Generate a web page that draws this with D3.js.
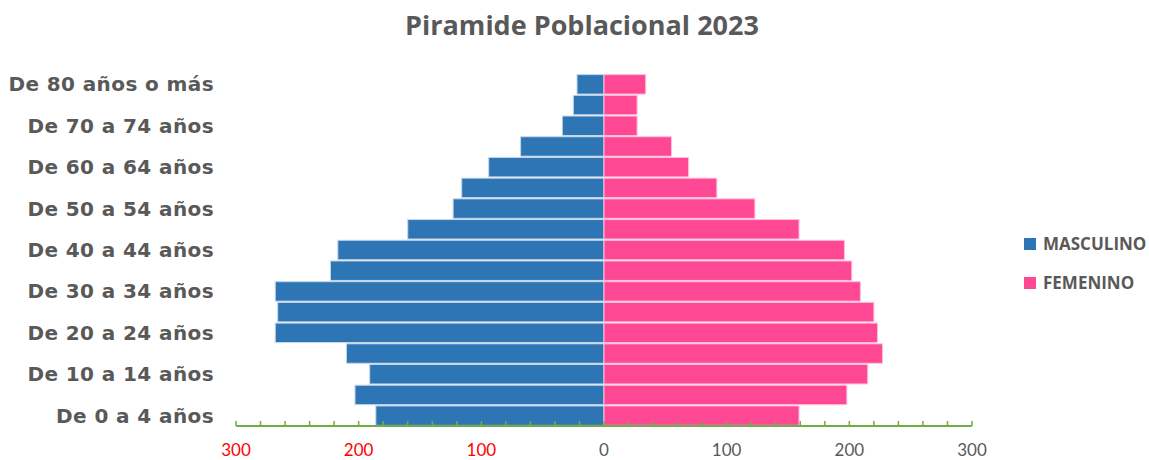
<!DOCTYPE html>
<html>
<head>
<meta charset="utf-8">
<script src="https://cdn.jsdelivr.net/npm/d3@7"></script>
<style>
  body { margin: 0; background: #fff; }
  svg { display: block; }
</style>
</head>
<body>
<div id="chart"></div>
<script>
// age groups, youngest first
const categories = [
    "De 0 a 4 años", "De 5 a 9 años", "De 10 a 14 años", "De 15 a 19 años",
    "De 20 a 24 años", "De 25 a 29 años", "De 30 a 34 años", "De 35 a 39 años",
    "De 40 a 44 años", "De 45 a 49 años", "De 50 a 54 años", "De 55 a 59 años",
    "De 60 a 64 años", "De 65 a 69 años", "De 70 a 74 años", "De 75 a 79 años",
    "De 80 años o más"
];
const masculino = [186, 203, 191, 210, 268, 266, 268, 223, 217, 160, 123, 116, 94, 68, 34, 25, 22];
const femenino = [159, 198, 215, 227, 223, 220, 209, 202, 196, 159, 123, 92, 69, 55, 27, 27, 34];
const tickValues = [-300, -200, -100, 0, 100, 200, 300];
const seriesNames = ["MASCULINO", "FEMENINO"];

const WIDTH = 1149, HEIGHT = 460;
const BLUE = "#2e75b6", PINK = "#ff4893", GREY = "#595959";

const svg = d3.select("#chart").append("svg")
    .attr("width", WIDTH)
    .attr("height", HEIGHT);

const x = d3.scaleLinear().domain([-300, 300]).range([236, 972]);
const y = d3.scaleBand().domain(categories).range([426, 74]).paddingInner(0.06).paddingOuter(0.03);

svg.append("text")
    .attr("x", 582).attr("y", 35)
    .attr("text-anchor", "middle")
    .style("font-family", "'Open Sans', sans-serif")
    .style("font-weight", "bold")
    .style("font-size", "27px")
    .attr("fill", GREY)
    .text("Piramide Poblacional 2023");

// bars
const bars = svg.append("g");
bars.selectAll(".m").data(masculino).join("rect")
    .attr("class", "m")
    .attr("x", d => x(-d))
    .attr("width", d => x(0) - x(-d))
    .attr("y", (d, i) => y(categories[i]))
    .attr("height", y.bandwidth())
    .attr("fill", BLUE)
    .attr("stroke", "#c5d6ea").attr("stroke-width", 1);
bars.selectAll(".f").data(femenino).join("rect")
    .attr("class", "f")
    .attr("x", x(0))
    .attr("width", d => x(d) - x(0))
    .attr("y", (d, i) => y(categories[i]))
    .attr("height", y.bandwidth())
    .attr("fill", PINK)
    .attr("stroke", "#ffc2da").attr("stroke-width", 1);

// category labels, every other one
svg.append("g").selectAll("text")
    .data(categories.filter((c, i) => i % 2 === 0))
    .join("text")
    .attr("x", 214)
    .attr("y", d => y(d) + y.bandwidth() / 2)
    .attr("dy", "0.35em")
    .attr("text-anchor", "end")
    .style("font-family", "'DejaVu Sans', Verdana, sans-serif")
    .style("font-weight", "bold")
    .style("font-size", "20px")
    .style("letter-spacing", "0.4px")
    .attr("fill", GREY)
    .text(d => d);

// x axis with minor ticks every 20
const axisG = svg.append("g").attr("transform", "translate(0,426)");
axisG.append("line")
    .attr("x1", x(-300)).attr("x2", x(300))
    .attr("stroke", "#70ad47").attr("stroke-width", 2);
axisG.selectAll(".tick").data(d3.range(-300, 301, 20)).join("line")
    .attr("x1", d => x(d)).attr("x2", d => x(d))
    .attr("y1", 0).attr("y2", -5)
    .attr("stroke", "#70ad47").attr("stroke-width", 1.5);
axisG.selectAll(".lbl").data(tickValues).join("text")
    .attr("x", d => x(d))
    .attr("y", 30)
    .attr("text-anchor", "middle")
    .style("font-family", "Lato, 'Open Sans', sans-serif")
    .style("font-size", "17px")
    .attr("fill", d => d < 0 ? "#ff0000" : GREY)
    .text(d => Math.abs(d));

// legend
const legend = svg.append("g").attr("transform", "translate(1024,0)");
seriesNames.forEach((name, i) => {
    const ly = 244 + i * 39;
    legend.append("rect")
        .attr("x", 0).attr("y", ly - 6)
        .attr("width", 12).attr("height", 12)
        .attr("fill", i === 0 ? BLUE : PINK);
    legend.append("text")
        .attr("x", 19).attr("y", ly)
        .attr("dy", "0.35em")
        .style("font-family", "'Open Sans', sans-serif")
        .style("font-weight", "bold")
        .style("font-size", "17px")
        .attr("fill", GREY)
        .text(name);
});
</script>
</body>
</html>
